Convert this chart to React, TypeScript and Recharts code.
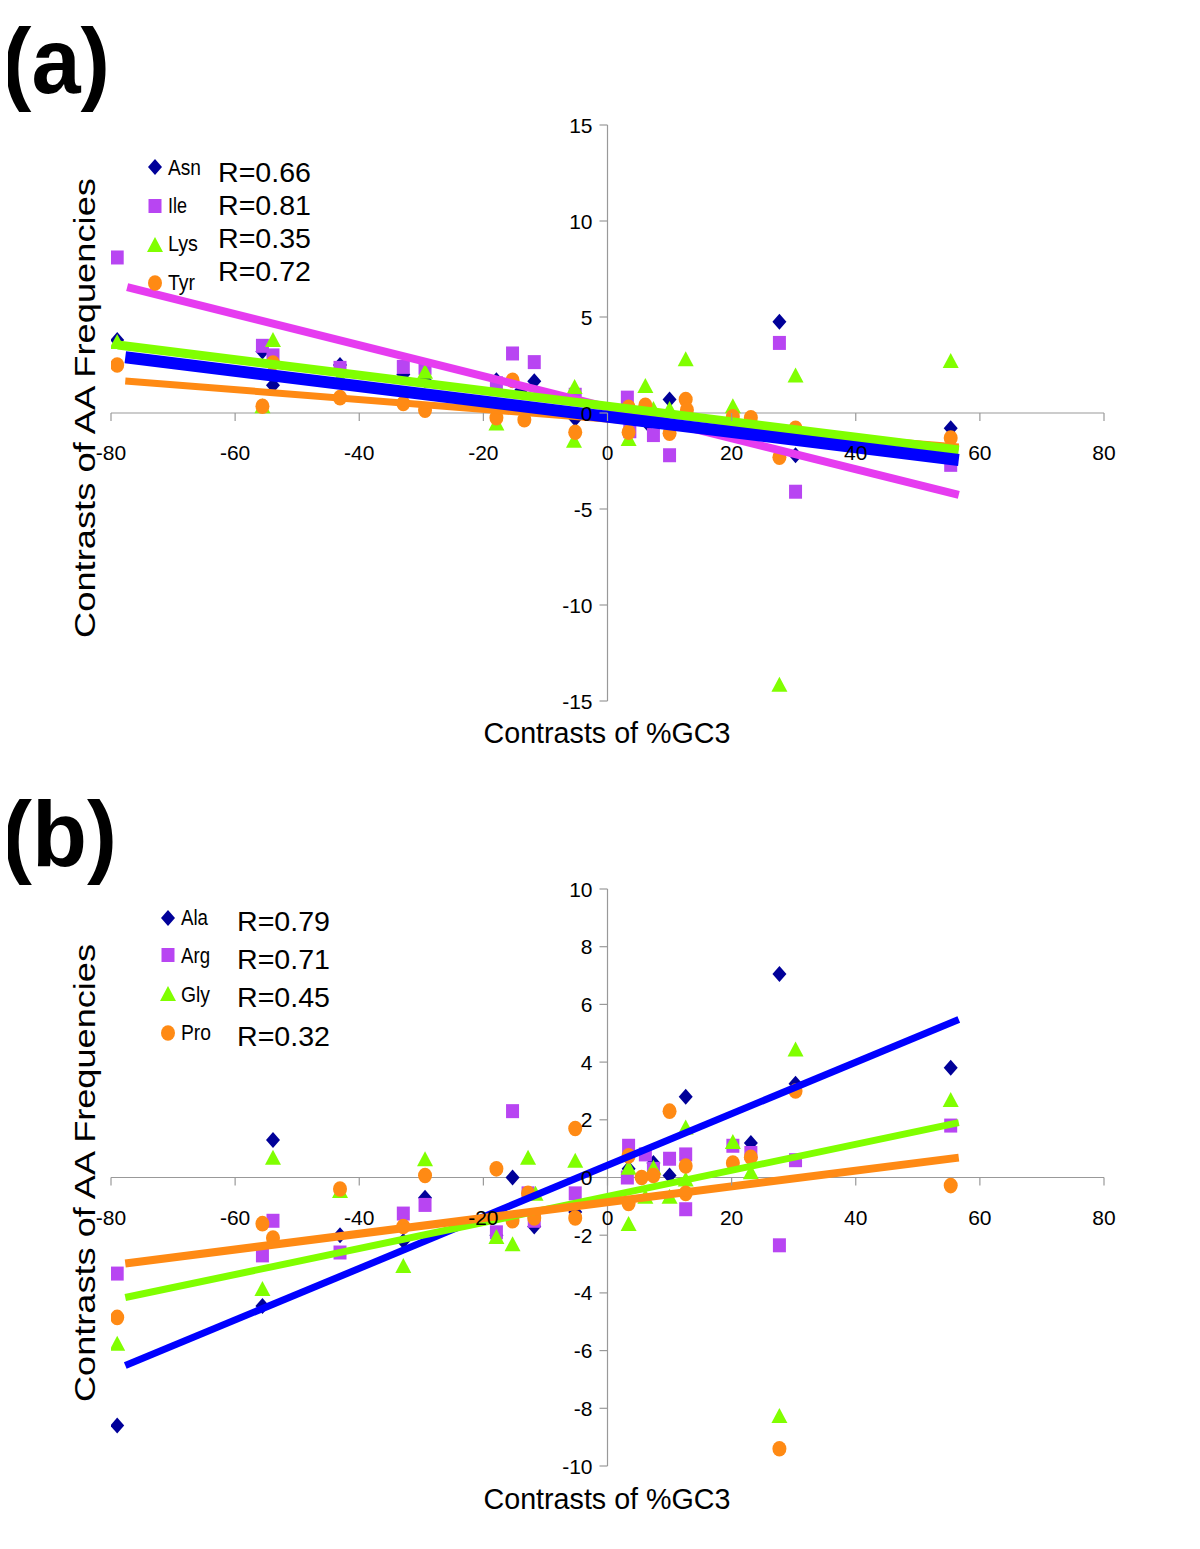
import React from 'react';
import { ScatterChart, Scatter, XAxis, YAxis, ReferenceLine } from 'recharts';

const FONT = "'Liberation Sans', Arial, Helvetica, sans-serif";

// ---------- shared axis ticks ----------
const xTicks = [-80, -60, -40, -20, 0, 20, 40, 60, 80];
const yTicksA = [-15, -10, -5, 0, 5, 10, 15];
const yTicksB = [-10, -8, -6, -4, -2, 0, 2, 4, 6, 8, 10];

// ---------- panel (a) data ----------
const asnA = [
  { x: -79, y: 3.8 }, { x: -55.6, y: 3.2 }, { x: -53.9, y: 1.45 }, { x: -43.1, y: 2.5 },
  { x: -32.9, y: 2.0 }, { x: -29.4, y: 1.7 }, { x: -17.9, y: 1.7 }, { x: -13.9, y: 1.2 },
  { x: -11.8, y: 1.65 }, { x: -5.2, y: -0.3 }, { x: 6.6, y: -0.6 }, { x: 10, y: 0.7 },
  { x: 27.7, y: 4.75 }, { x: 30.3, y: -2.2 }, { x: 55.3, y: -0.8 },
];
const ileA = [
  { x: -79, y: 8.1 }, { x: -55.6, y: 3.5 }, { x: -53.9, y: 3.0 }, { x: -43.1, y: 2.35 },
  { x: -32.9, y: 2.4 }, { x: -29.4, y: 2.35 }, { x: -17.9, y: 1.55 }, { x: -15.3, y: 3.1 },
  { x: -11.8, y: 2.65 }, { x: -5.2, y: 0.95 }, { x: 3.2, y: 0.8 }, { x: 3.6, y: -0.95 },
  { x: 7.4, y: -1.15 }, { x: 10, y: -2.2 }, { x: 27.7, y: 3.65 }, { x: 30.3, y: -4.1 },
  { x: 55.3, y: -2.7 },
];
const lysA = [
  { x: -79, y: 3.65 }, { x: -55.6, y: 0.3 }, { x: -53.9, y: 3.75 }, { x: -43.1, y: 1.8 },
  { x: -29.4, y: 2.1 }, { x: -17.9, y: -0.6 }, { x: -5.3, y: 1.3 }, { x: -5.4, y: -1.5 },
  { x: 3.4, y: -1.4 }, { x: 6.1, y: 1.35 }, { x: 7.4, y: 0.15 }, { x: 10, y: 0.15 },
  { x: 12.6, y: 2.75 }, { x: 20.2, y: 0.3 }, { x: 27.7, y: -14.2 }, { x: 30.3, y: 1.9 },
  { x: 55.3, y: 2.65 },
];
const tyrA = [
  { x: -79, y: 2.5 }, { x: -55.6, y: 0.35 }, { x: -53.9, y: 2.6 }, { x: -43.1, y: 0.8 },
  { x: -32.9, y: 0.5 }, { x: -29.4, y: 0.15 }, { x: -17.9, y: -0.25 }, { x: -15.3, y: 1.7 },
  { x: -13.4, y: -0.35 }, { x: -5.2, y: -1.0 }, { x: 3.4, y: 0.3 }, { x: 3.4, y: -1.0 },
  { x: 6.1, y: 0.4 }, { x: 10, y: -1.05 }, { x: 12.6, y: 0.7 }, { x: 12.8, y: 0.15 },
  { x: 20.2, y: -0.2 }, { x: 23.1, y: -0.25 }, { x: 27.7, y: -2.3 }, { x: 30.3, y: -0.8 },
  { x: 55.3, y: -1.3 },
];
const asnTrend = [{ x: -77.7, y: 2.9 }, { x: 56.6, y: -2.45 }];
const ileTrend = [{ x: -77.4, y: 6.56 }, { x: 56.6, y: -4.27 }];
const lysTrend = [{ x: -78.9, y: 3.54 }, { x: 56.6, y: -1.93 }];
const tyrTrend = [{ x: -77.7, y: 1.67 }, { x: 56.6, y: -1.77 }];
const legendA = ['Asn', 'Ile', 'Lys', 'Tyr'];
const rValuesA = ['R=0.66', 'R=0.81', 'R=0.35', 'R=0.72'];

// ---------- panel (b) data ----------
const alaB = [
  { x: -79, y: -8.6 }, { x: -55.6, y: -4.45 }, { x: -53.9, y: 1.3 }, { x: -43.1, y: -2.0 },
  { x: -32.9, y: -2.2 }, { x: -29.4, y: -0.7 }, { x: -17.9, y: -2.0 }, { x: -15.3, y: 0.0 },
  { x: -11.8, y: -1.7 }, { x: -5.2, y: -1.2 }, { x: 3.4, y: 0.3 }, { x: 7.4, y: 0.5 },
  { x: 10, y: 0.07 }, { x: 12.6, y: 2.8 }, { x: 23.1, y: 1.2 }, { x: 27.7, y: 7.05 },
  { x: 30.3, y: 3.25 }, { x: 55.3, y: 3.8 },
];
const argB = [
  { x: -79, y: -3.33 }, { x: -55.6, y: -2.7 }, { x: -53.9, y: -1.5 }, { x: -43.1, y: -2.6 },
  { x: -32.9, y: -1.25 }, { x: -29.4, y: -0.95 }, { x: -17.9, y: -1.9 }, { x: -15.3, y: 2.3 },
  { x: -12.8, y: -0.55 }, { x: -11.8, y: -1.5 }, { x: -5.2, y: -0.55 }, { x: 3.4, y: 1.1 },
  { x: 3.2, y: 0.0 }, { x: 6.1, y: 0.8 }, { x: 7.4, y: 0.3 }, { x: 10, y: 0.65 },
  { x: 12.6, y: 0.8 }, { x: 12.6, y: -1.1 }, { x: 20.2, y: 1.1 }, { x: 23.1, y: 0.85 },
  { x: 27.7, y: -2.35 }, { x: 30.3, y: 0.6 }, { x: 55.3, y: 1.8 },
];
const glyB = [
  { x: -79, y: -5.8 }, { x: -55.6, y: -3.9 }, { x: -53.9, y: 0.65 }, { x: -43.1, y: -0.5 },
  { x: -32.9, y: -3.1 }, { x: -29.4, y: 0.6 }, { x: -17.9, y: -2.1 }, { x: -15.3, y: -2.35 },
  { x: -12.8, y: 0.65 }, { x: -11.6, y: -0.6 }, { x: -5.2, y: 0.55 }, { x: 3.4, y: 0.3 },
  { x: 3.4, y: -1.65 }, { x: 6.1, y: -0.7 }, { x: 7.4, y: 0.3 }, { x: 10, y: -0.7 },
  { x: 12.6, y: 1.7 }, { x: 12.6, y: -0.1 }, { x: 20.2, y: 1.2 }, { x: 23.1, y: 0.15 },
  { x: 27.7, y: -8.3 }, { x: 30.3, y: 4.4 }, { x: 55.3, y: 2.65 },
];
const proB = [
  { x: -79, y: -4.85 }, { x: -55.6, y: -1.6 }, { x: -53.9, y: -2.1 }, { x: -43.1, y: -0.4 },
  { x: -32.9, y: -1.7 }, { x: -29.4, y: 0.07 }, { x: -17.9, y: 0.3 }, { x: -15.3, y: -1.5 },
  { x: -12.8, y: -0.55 }, { x: -11.8, y: -1.4 }, { x: -5.2, y: 1.7 }, { x: -5.2, y: -1.4 },
  { x: 3.4, y: 0.75 }, { x: 3.4, y: -0.9 }, { x: 5.5, y: 0.0 }, { x: 7.4, y: 0.07 },
  { x: 10, y: 2.3 }, { x: 12.6, y: 0.4 }, { x: 12.6, y: -0.55 }, { x: 20.2, y: 0.5 },
  { x: 23.1, y: 0.7 }, { x: 27.7, y: -9.4 }, { x: 30.3, y: 3.0 }, { x: 55.3, y: -0.28 },
];
const alaTrend = [{ x: -77.7, y: -6.52 }, { x: 56.6, y: 5.48 }];
const glyTrend = [{ x: -77.7, y: -4.16 }, { x: 56.6, y: 1.9 }];
const proTrend = [{ x: -77.7, y: -2.98 }, { x: 56.6, y: 0.69 }];
const legendB = ['Ala', 'Arg', 'Gly', 'Pro'];
const rValuesB = ['R=0.79', 'R=0.71', 'R=0.45', 'R=0.32'];

// ---------- colours ----------
const C_DIAMOND = '#000099';
const C_SQUARE = '#B845F2';
const C_TRI = '#80FF00';
const C_CIRCLE = '#FF8A14';
const C_BLUE_LINE = '#0000FF';
const C_MAGENTA_LINE = '#E63CF0';
const C_GREEN_LINE = '#80FF00';
const C_ORANGE_LINE = '#FF8A14';
const AXIS_GREY = '#999999';

// ---------- marker shapes ----------
const diamondPath = (cx: number, cy: number) =>
  `M${cx},${cy - 8} L${cx + 7},${cy} L${cx},${cy + 8} L${cx - 7},${cy} Z`;
const squarePath = (cx: number, cy: number) =>
  `M${cx - 6.5},${cy - 7} h13 v14 h-13 Z`;
const triPath = (cx: number, cy: number) =>
  `M${cx},${cy - 9} L${cx + 8},${cy + 6} L${cx - 8},${cy + 6} Z`;

const DiamondShape = (p: any) => <path d={diamondPath(p.cx, p.cy)} fill={C_DIAMOND} />;
const SquareShape = (p: any) => <path d={squarePath(p.cx, p.cy)} fill={C_SQUARE} />;
const TriShape = (p: any) => <path d={triPath(p.cx, p.cy)} fill={C_TRI} />;
const CircleShape = (p: any) => <ellipse cx={p.cx} cy={p.cy} rx={7} ry={7.8} fill={C_CIRCLE} />;
const NoShape = () => <g />;

// ---------- panel component ----------
const YW = 40;
const XH = 30;

type Series = { data: { x: number; y: number }[]; shape: any };
type Trend = { data: { x: number; y: number }[]; color: string; width: number };

function Panel(props: {
  width: number;
  height: number;
  left: number;
  top: number;
  plotW: number;
  plotH: number;
  yDomain: [number, number];
  yTicks: number[];
  series: Series[];
  trends: Trend[];
}) {
  const { width, height, left, top, plotW, plotH, yDomain, yTicks, series, trends } = props;
  const x0 = left + plotW / 2;
  const y0 = top + (plotH * yDomain[1]) / (yDomain[1] - yDomain[0]);
  const margin = {
    top,
    left: left - YW,
    right: width - left - plotW,
    bottom: height - top - plotH - XH,
  };

  const renderXTick = (p: any) => (
    <g>
      <line x1={p.x} x2={p.x} y1={y0} y2={y0 + 8} stroke={AXIS_GREY} strokeWidth={1.2} />
      <text x={p.x} y={y0 + 47} textAnchor="middle" fontSize={21} fontFamily={FONT} fill="#000">
        {p.payload.value}
      </text>
    </g>
  );
  const renderYTick = (p: any) => (
    <g>
      <line x1={x0 - 8} x2={x0} y1={p.y} y2={p.y} stroke={AXIS_GREY} strokeWidth={1.2} />
      <text x={x0 - 15} y={p.y + 7.5} textAnchor="end" fontSize={21} fontFamily={FONT} fill="#000">
        {p.payload.value}
      </text>
    </g>
  );

  return (
    <ScatterChart width={width} height={height} margin={margin}>
      <XAxis
        type="number"
        dataKey="x"
        domain={[-80, 80]}
        ticks={xTicks}
        interval={0}
        axisLine={false}
        tickLine={false}
        height={XH}
        tick={renderXTick}
        allowDataOverflow
      />
      <YAxis
        type="number"
        dataKey="y"
        domain={yDomain}
        ticks={yTicks}
        interval={0}
        axisLine={false}
        tickLine={false}
        width={YW}
        tick={renderYTick}
        allowDataOverflow
      />
      <ReferenceLine y={0} stroke={AXIS_GREY} strokeWidth={1.2} />
      <ReferenceLine x={0} stroke={AXIS_GREY} strokeWidth={1.2} />
      {series.map((s, i) => (
        <Scatter key={'s' + i} data={s.data} shape={s.shape} isAnimationActive={false} />
      ))}
      {trends.map((t, i) => (
        <Scatter
          key={'t' + i}
          data={t.data}
          fill={t.color}
          line={{ stroke: t.color, strokeWidth: t.width }}
          shape={NoShape}
          isAnimationActive={false}
        />
      ))}
    </ScatterChart>
  );
}

function LegendBlock(props: {
  mx: number;
  tx: number;
  rx: number;
  markerYs: number[];
  textYs: number[];
  rYs: number[];
  names: string[];
  nameWidths: number[];
  rs: string[];
}) {
  const { mx, tx, rx, markerYs, textYs, rYs, names, nameWidths, rs } = props;
  const shapes = [
    <path d={diamondPath(mx, markerYs[0])} fill={C_DIAMOND} />,
    <path d={squarePath(mx, markerYs[1])} fill={C_SQUARE} />,
    <path d={triPath(mx, markerYs[2])} fill={C_TRI} />,
    <ellipse cx={mx} cy={markerYs[3]} rx={7} ry={7.8} fill={C_CIRCLE} />,
  ];
  return (
    <g>
      {shapes.map((s, i) => (
        <g key={'m' + i}>{s}</g>
      ))}
      {names.map((n, i) => (
        <text
          key={'n' + i}
          x={tx}
          y={textYs[i]}
          fontSize={22}
          fontFamily={FONT}
          textLength={nameWidths[i]}
          lengthAdjust="spacingAndGlyphs"
          fill="#000"
        >
          {n}
        </text>
      ))}
      {rs.map((r, i) => (
        <text
          key={'r' + i}
          x={rx}
          y={rYs[i]}
          fontSize={27}
          fontFamily={FONT}
          textLength={93}
          lengthAdjust="spacingAndGlyphs"
          fill="#000"
        >
          {r}
        </text>
      ))}
    </g>
  );
}

export default function App() {
  return (
    <div style={{ position: 'relative', width: 1192, height: 1541, background: '#fff' }}>
      <div style={{ position: 'absolute', left: 0, top: 0 }}>
        <Panel
          width={1192}
          height={760}
          left={103}
          top={117}
          plotW={993}
          plotH={576}
          yDomain={[-15, 15]}
          yTicks={yTicksA}
          series={[
            { data: asnA, shape: DiamondShape },
            { data: ileA, shape: SquareShape },
            { data: lysA, shape: TriShape },
            { data: tyrA, shape: CircleShape },
          ]}
          trends={[
            { data: tyrTrend, color: C_ORANGE_LINE, width: 7 },
            { data: ileTrend, color: C_MAGENTA_LINE, width: 8 },
            { data: lysTrend, color: C_GREEN_LINE, width: 9 },
            { data: asnTrend, color: C_BLUE_LINE, width: 12 },
          ]}
        />
      </div>
      <div style={{ position: 'absolute', left: 0, top: 760 }}>
        <Panel
          width={1192}
          height={781}
          left={103}
          top={121}
          plotW={993}
          plotH={577}
          yDomain={[-10, 10]}
          yTicks={yTicksB}
          series={[
            { data: alaB, shape: DiamondShape },
            { data: argB, shape: SquareShape },
            { data: glyB, shape: TriShape },
            { data: proB, shape: CircleShape },
          ]}
          trends={[
            { data: alaTrend, color: C_BLUE_LINE, width: 7 },
            { data: glyTrend, color: C_GREEN_LINE, width: 7 },
            { data: proTrend, color: C_ORANGE_LINE, width: 8 },
          ]}
        />
      </div>
      <svg
        width={1200}
        height={1549}
        style={{ position: 'absolute', left: -8, top: -8, pointerEvents: 'none', overflow: 'visible' }}
      >
        {/* panel labels */}
        <text x={2} y={93} fontSize={92} fontWeight="bold" fontFamily={FONT} textLength={108} lengthAdjust="spacingAndGlyphs">
          (a)
        </text>
        <text x={2} y={866} fontSize={92} fontWeight="bold" fontFamily={FONT} textLength={115} lengthAdjust="spacingAndGlyphs">
          (b)
        </text>
        {/* axis titles */}
        <text
          transform="translate(95,408) rotate(-90)"
          textAnchor="middle"
          fontSize={30}
          fontFamily={FONT}
          textLength={460}
          lengthAdjust="spacingAndGlyphs"
        >
          Contrasts of AA Frequencies
        </text>
        <text x={607} y={743} textAnchor="middle" fontSize={30} fontFamily={FONT} textLength={247} lengthAdjust="spacingAndGlyphs">
          Contrasts of %GC3
        </text>
        <text
          transform="translate(95,1173) rotate(-90)"
          textAnchor="middle"
          fontSize={30}
          fontFamily={FONT}
          textLength={458}
          lengthAdjust="spacingAndGlyphs"
        >
          Contrasts of AA Frequencies
        </text>
        <text x={607} y={1509} textAnchor="middle" fontSize={30} fontFamily={FONT} textLength={247} lengthAdjust="spacingAndGlyphs">
          Contrasts of %GC3
        </text>
        {/* legends */}
        <LegendBlock
          mx={155}
          tx={168}
          rx={218}
          markerYs={[167, 206, 246, 283]}
          textYs={[175, 213, 251, 290]}
          rYs={[182, 215, 248, 281]}
          names={legendA}
          nameWidths={[33, 19, 30, 27]}
          rs={rValuesA}
        />
        <LegendBlock
          mx={168}
          tx={181}
          rx={237}
          markerYs={[918, 955, 995, 1033]}
          textYs={[925, 963, 1002, 1040]}
          rYs={[931, 969, 1007, 1046]}
          names={legendB}
          nameWidths={[27, 29, 29, 30]}
          rs={rValuesB}
        />
      </svg>
    </div>
  );
}
